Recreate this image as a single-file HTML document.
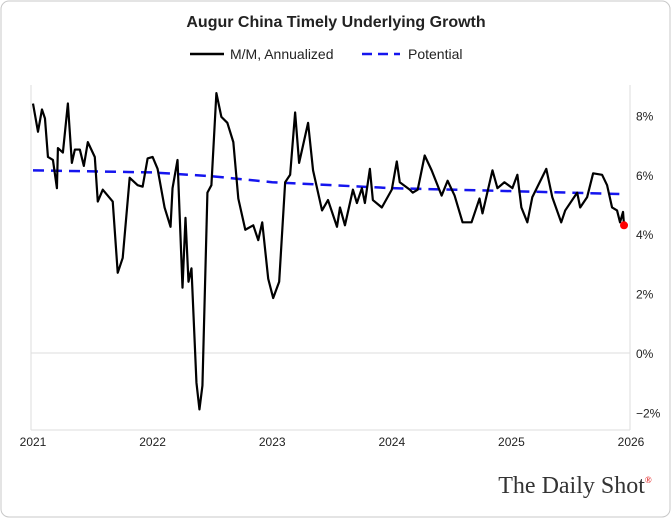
<!DOCTYPE html>
<html><head><meta charset="utf-8"><style>
body{margin:0;background:#fff;font-family:"Liberation Sans",sans-serif}
#wrap{position:relative;width:671px;height:518px;overflow:hidden}
</style></head><body>
<div id="wrap">
<svg id="chart" width="671" height="518">
<rect x="1" y="1" width="669" height="516" rx="8" fill="#fff" stroke="#c8c8c8"/>
<text x="336" y="27" text-anchor="middle" font-size="16" font-weight="bold" fill="#222">Augur China Timely Underlying Growth</text>
<line x1="190" y1="54" x2="224" y2="54" stroke="#000" stroke-width="2.5"/>
<text x="230" y="59" font-size="14" fill="#222">M/M, Annualized</text>
<line x1="362" y1="54" x2="400" y2="54" stroke="#1515ee" stroke-width="2.5" stroke-dasharray="10,6"/>
<text x="408" y="59" font-size="14" fill="#222">Potential</text>
<line x1="31" y1="85" x2="31" y2="430" stroke="#ddd"/>
<line x1="630" y1="85" x2="630" y2="430" stroke="#ddd"/>
<line x1="31" y1="430" x2="630" y2="430" stroke="#ddd"/>
<g id="axes"></g>
<g id="series"></g>
<text x="575" y="493" text-anchor="middle" font-family="Liberation Serif,serif" font-size="24" fill="#333">The Daily Shot<tspan font-size="9" fill="#d00" dy="-10">®</tspan></text>
</svg>
</div>
<script>
const xTickLabels=["2021","2022","2023","2024","2025","2026"];
const yTickValues=[8,6,4,2,0,-2];
const months=[0,0.5,0.9,1.2,1.5,2.0,2.4,2.5,3.0,3.5,3.9,4.2,4.7,5.1,5.5,6.2,6.5,7.0,8.0,8.5,9.0,9.7,10.5,11.0,11.5,12.0,12.5,13.2,13.8,14.0,14.5,15.0,15.3,15.6,15.9,16.4,16.7,17.0,17.5,17.9,18.4,18.9,19.5,20.1,20.6,21.3,22.1,22.6,23.0,23.6,24.1,24.7,25.3,25.8,26.3,26.7,27.1,27.6,28.1,29.0,29.6,30.5,30.8,31.3,32.1,32.5,33.0,33.3,33.8,34.1,35.0,36.0,36.5,36.8,37.8,38.1,38.6,39.3,40.0,41.0,41.6,42.3,43.1,44.0,44.8,45.1,46.1,46.6,47.3,48.1,48.6,49.0,49.6,50.1,51.5,52.1,53.0,53.4,54.6,54.9,55.6,56.2,57.1,57.6,58.1,58.6,58.9,59.2,59.3];
const growth=[8.4,7.45,8.2,7.9,6.6,6.5,5.55,6.9,6.75,8.4,6.4,6.85,6.85,6.3,7.1,6.6,5.1,5.5,5.1,2.7,3.2,5.9,5.65,5.6,6.55,6.6,6.2,4.9,4.25,5.55,6.5,2.2,4.55,2.4,2.85,-1.0,-1.9,-1.1,5.4,5.65,8.75,7.95,7.75,7.1,5.2,4.15,4.3,3.8,4.4,2.5,1.85,2.4,5.75,6.0,8.1,6.4,7.0,7.75,6.15,4.8,5.15,4.25,4.9,4.3,5.5,5.05,5.55,5.05,6.2,5.15,4.9,5.5,6.45,5.75,5.5,5.4,5.5,6.65,6.15,5.3,5.8,5.3,4.4,4.4,5.2,4.7,6.15,5.55,5.75,5.55,6.0,4.9,4.4,5.25,6.2,5.25,4.4,4.8,5.4,4.9,5.25,6.05,6.0,5.65,4.9,4.8,4.4,4.75,4.3];
const potMonths=[0,12,18,24,36,48,59.3];
const potential=[6.15,6.08,5.95,5.75,5.55,5.45,5.35];
const X=m=>33+m*(598/60);
const Y=v=>353-v*29.7;
const NS="http://www.w3.org/2000/svg";
const axes=document.getElementById('axes'),series=document.getElementById('series');
function mk(t,a,p){const e=document.createElementNS(NS,t);for(const k in a)e.setAttribute(k,a[k]);p.appendChild(e);return e;}
yTickValues.forEach(v=>{
  if(v===0){const l=mk('line',{x1:31,x2:630,y1:Y(0),y2:Y(0),stroke:'#ddd'},axes);
  
  }
  const t=mk('text',{x:636,y:Y(v)+5,'font-size':12,fill:'#222'},axes);
  t.textContent=(v<0?'\u2212':'')+Math.abs(v)+'%';
  
  
});
xTickLabels.forEach((s,i)=>{
  const t=mk('text',{x:X(i*12),y:446,'font-size':12,fill:'#222','text-anchor':'middle'},axes);
  t.textContent=s;
  
  
});
const pp=mk('polyline',{points:potMonths.map((m,i)=>X(m)+','+Y(potential[i])).join(' '),fill:'none',stroke:'#1515ee','stroke-width':2.5,'stroke-dasharray':'11,7'},series);


const gl=mk('polyline',{points:months.map((m,i)=>X(m)+','+Y(growth[i])).join(' '),fill:'none',stroke:'#000','stroke-width':2.2,'stroke-linejoin':'round'},series);


const n=months.length-1;
const dot=mk('circle',{cx:X(months[n]),cy:Y(growth[n]),r:4,fill:'#f00'},series);


</script>
</body></html>
